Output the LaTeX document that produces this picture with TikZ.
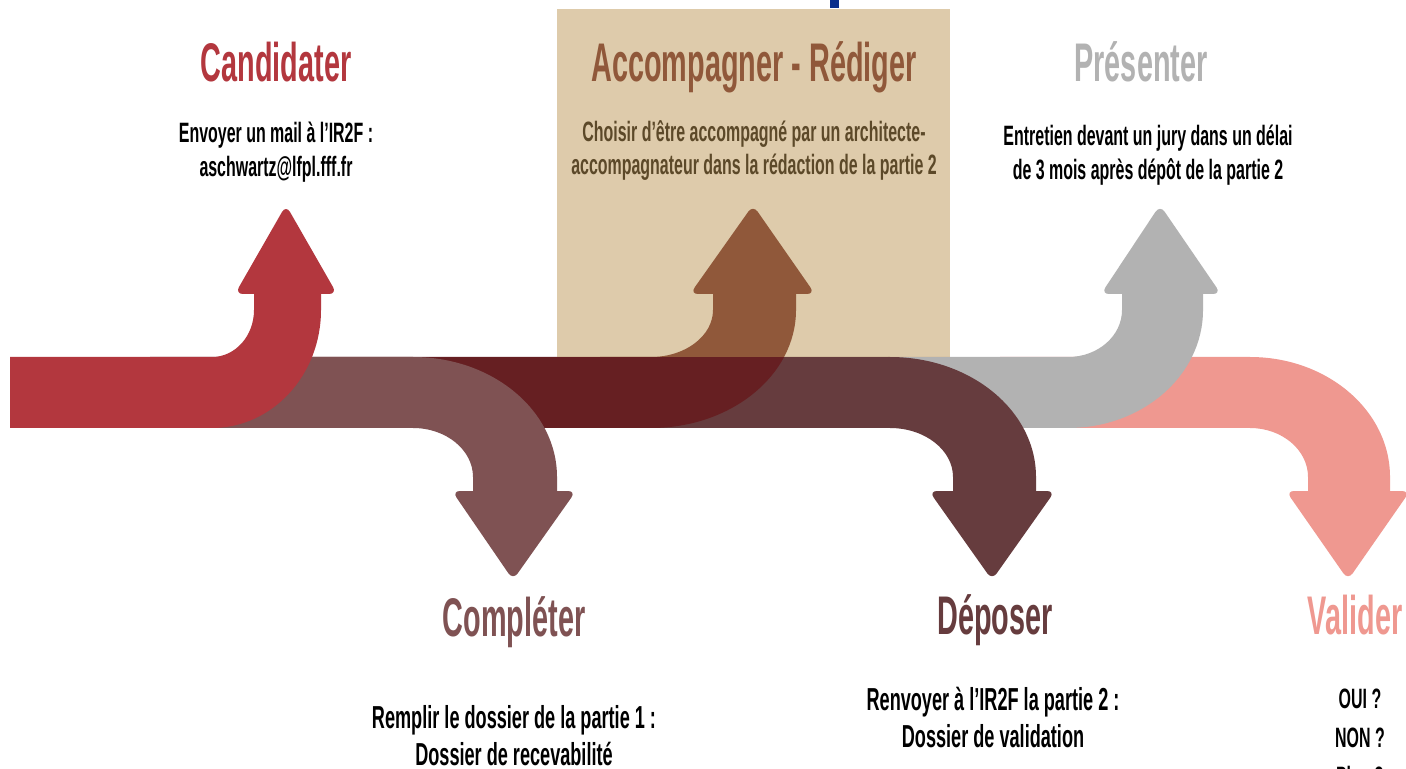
\documentclass[tikz,border=0pt]{standalone}
\usepackage{fontspec}
\newfontfamily\titlefont{Liberation Sans}[FakeStretch=0.53]
\newfontfamily\bodyfont{Liberation Sans}[FakeStretch=0.57]
\definecolor{cRed}{HTML}{B3373E}
\definecolor{cMauve}{HTML}{7F5253}
\definecolor{cDark}{HTML}{661F22}
\definecolor{cDep}{HTML}{663C3E}
\definecolor{cGray}{HTML}{B2B2B2}
\definecolor{cPink}{HTML}{EF9890}
\definecolor{cTan}{RGB}{188,149,84}
\definecolor{cBlue}{HTML}{0A2E8C}
% up arrow: color, start, bend, inner x, outer x, head left, head right, tip x
\newcommand\UpArr[8]{%
  \fill[#1] (#2,428) -- (#3,428)
    .. controls ({#3+0.5523*(#5-#3)},428) and (#5,{310+0.5523*118}) .. (#5,310)
    -- (#5,285) -- (#4,285) -- (#4,310)
    .. controls (#4,{310+0.5523*47}) and ({#3+0.5523*(#4-#3)},357) .. (#3,357)
    -- (#2,357) -- cycle;
  \fill[#1, rounded corners=4pt] (#6,294) -- (#8,205) -- (#7,294) -- cycle;
}
% down arrow
\newcommand\DnArr[8]{%
  \fill[#1] (#2,357) -- (#3,357)
    .. controls ({#3+0.5523*(#5-#3)},357) and (#5,{477-0.5523*120}) .. (#5,477)
    -- (#5,500) -- (#4,500) -- (#4,477)
    .. controls (#4,{477-0.5523*49}) and ({#3+0.5523*(#4-#3)},428) .. (#3,428)
    -- (#2,428) -- cycle;
  \fill[#1, rounded corners=4pt] (#6,491) -- (#8,580) -- (#7,491) -- cycle;
}
\begin{document}
\begin{tikzpicture}[x=0.5pt,y=-0.5pt,
  titletxt/.style={font=\titlefont\bfseries\fontsize{27.2}{32}\selectfont, anchor=base, inner sep=0pt},
  bodytxt/.style={font=\bodyfont\bfseries\fontsize{14}{17}\selectfont, anchor=base, inner sep=0pt, text=black},
  bigbodytxt/.style={font=\bodyfont\bfseries\fontsize{15.9}{19}\selectfont, anchor=base, inner sep=0pt, text=black}]
\useasboundingbox (0,0) rectangle (1406,769);
\fill[white] (0,0) rectangle (1406,769);
\clip (0,0) rectangle (1406,769);
% arrows, back to front
\DnArr{cPink}{1000}{1250}{1308}{1390}{1286}{1410}{1348}
\UpArr{cGray}{888}{1068}{1122}{1203}{1101}{1221}{1160}
\DnArr{cDep}{600}{890}{953}{1036}{929}{1055}{992}
\UpArr{cDark}{300}{651}{713}{796}{690}{815}{753}
\DnArr{cMauve}{150}{413}{473}{557}{452}{576}{513}
\UpArr{cRed}{10}{212}{254}{321}{235}{337}{286}
% texts
\node[titletxt, text=cRed] (t1) at (276,82) {Candidater};
\node[bodytxt] (b1a) at (276,143) {Envoyer un mail à l’IR2F :};
\node[bodytxt] (b1b) at (276,177) {aschwartz@lfpl.fff.fr};
\node[titletxt, text=cDark] (t3) at (754,82) {Accompagner - Rédiger};
\node[bodytxt] (b3a) at (754,142) {Choisir d’être accompagné par un architecte-};
\node[bodytxt] (b3b) at (754,175) {accompagnateur dans la rédaction de la partie 2};
\node[titletxt, text=cGray] (t5) at (1141,82) {Présenter};
\node[bodytxt] (b5a) at (1148,146) {Entretien devant un jury dans un délai};
\node[bodytxt] (b5b) at (1148,180) {de 3 mois après dépôt de la partie 2};
\node[titletxt, text=cMauve] (t2) at (514,636) {Compléter};
\node[bigbodytxt] (b2a) at (514,728) {Remplir le dossier de la partie 1 :};
\node[bigbodytxt] (b2b) at (514,765) {Dossier de recevabilité};
\node[titletxt, text=cDep] (t4) at (995,634) {Déposer};
\node[bigbodytxt] (b4a) at (993,710) {Renvoyer à l’IR2F la partie 2 :};
\node[bigbodytxt] (b4b) at (993,747) {Dossier de validation};
\node[titletxt, text=cPink] (t6) at (1355,634) {Valider};
\node[bodytxt] (b6a) at (1360,708) {OUI ?};
\node[bodytxt] (b6b) at (1360,747) {NON ?};
\node[bodytxt] (b6c) at (1360,786) {Plus ?};
% translucent tan panel over the second step
\fill[cTan, fill opacity=0.49] (557,9) rectangle (950,357);
\fill[cBlue] (830,0) rectangle (839,8);
\end{tikzpicture}
\end{document}
